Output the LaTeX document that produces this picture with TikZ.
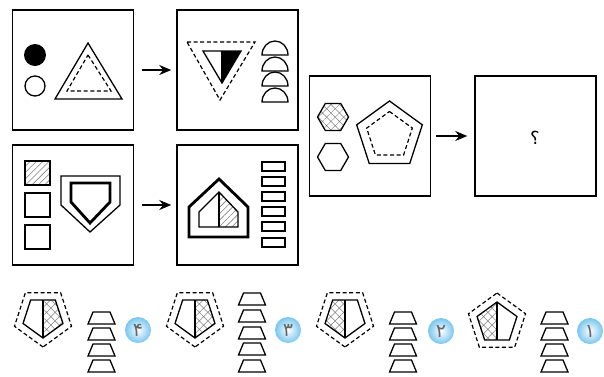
\documentclass[tikz,border=0pt]{standalone}
\usepackage{fontspec}
\newfontfamily\arabicfont[Script=Arabic]{DejaVu Sans}
\usetikzlibrary{patterns.meta, arrows.meta}
\definecolor{badgeblue}{RGB}{120,198,238}
\tikzset{
  panel/.style={draw, line width=1.5pt, minimum width=121pt, minimum height=120pt, inner sep=0pt},
  dsh/.style={line width=1.2pt, dash pattern=on 4pt off 2.6pt},
  hatch/.style={pattern={Lines[angle=45,distance=4.5pt,line width=0.6pt]}, pattern color=gray},
  xhatch/.style={pattern={Hatch[angle=45,distance=6pt,line width=0.5pt]}, pattern color=gray},
  badge/.style={circle, minimum size=26pt, inner sep=0pt, inner color=white, outer color=badgeblue, text=gray!80!black, font=\arabicfont\fontsize{19}{19}\selectfont},
}
\begin{document}
\begin{tikzpicture}[x=1pt, y=-1pt, line width=1.3pt, line join=miter, >={Stealth[length=12pt, width=10pt]}]
	\useasboundingbox (0,0) rectangle (604,376);
	%%%%%%%%%%%%%%%%%%%%%%%%%%%%%%%%%
	\node[panel] (p1) at (73,70) {};
	\node[panel] (p2) at (237.5,70) {};
	\node[panel] (p3) at (73,205) {};
	\node[panel] (p4) at (237.5,205) {};
	\node[panel] (p5) at (370,136) {};
	\node[panel] (p6) at (535.5,136) {};
	\draw[->, line width=1.5pt, shorten <=8pt, shorten >=5pt] (p1) -- (p2);
	\draw[->, line width=1.5pt, shorten <=8pt, shorten >=5pt] (p3) -- (p4);
	\draw[->, line width=1.5pt, shorten <=5pt, shorten >=7pt] (p5) -- (p6);
	\node[font=\arabicfont\fontsize{18}{18}\selectfont] (q) at (535,138) {؟};
	%%%%%%%%%%%%%%%%%%%%%%%%%%%%%%%%%
	% panel 1
	\fill (35,55) circle (11);
	\draw (35,86) circle (10);
	\draw (88,43) -- (122,99) -- (55,99) -- cycle;
	\draw[dsh] (88,55) -- (111,91) -- (67,91) -- cycle;
	% panel 2
	\draw[dsh] (187,42) -- (255,42) -- (220,100) -- cycle;
	\fill (222,51) -- (241,51) -- (222,83) -- cycle;
	\draw (203,51) -- (241,51) -- (222,83) -- cycle;
	\draw (222,51) -- (222,83);
	\foreach \y in {55,71,86,102}
		\draw (262,\y) arc[start angle=180, end angle=360, x radius=13, y radius=14] -- cycle;
	% panel 3
	\draw[hatch] (25,161) rectangle (50,185);
	\draw (25,193) rectangle (50,217);
	\draw (25,225) rectangle (50,249);
	\draw (61,176) -- (120,176) -- (120,205) -- (90,232) -- (61,205) -- cycle;
	\draw[line width=2.8pt] (71,183) -- (110,183) -- (110,202) -- (90,223) -- (71,202) -- cycle;
	% panel 4
	\draw[line width=2.8pt] (219,179) -- (248,207) -- (248,237) -- (189,237) -- (189,207) -- cycle;
	\fill[hatch] (219,192) -- (238,212) -- (238,227) -- (219,227) -- cycle;
	\draw (219,192) -- (238,212) -- (238,227) -- (199,227) -- (199,212) -- cycle;
	\draw (219,192) -- (219,227);
	\foreach \y in {162,177,192,207,222,238}
		\draw (262,\y) rectangle (285,\y+9);
	% panel 5
	\draw[xhatch] (333,117) ++(0:15.5) -- ++(120:15.5) -- ++(180:15.5) -- ++(240:15.5) -- ++(300:15.5) -- ++(0:15.5) -- cycle;
	\draw (333,157) ++(0:15.5) -- ++(120:15.5) -- ++(180:15.5) -- ++(240:15.5) -- ++(300:15.5) -- ++(0:15.5) -- cycle;
	\draw[shift={(389.5,135.5)}] (270:34.5) -- (342:34.5) -- (54:34.5) -- (126:34.5) -- (198:34.5) -- cycle;
	\draw[dsh, shift={(389.5,135.5)}] (270:24) -- (342:24) -- (54:24) -- (126:24) -- (198:24) -- cycle;
	%%%%%%%%%%%%%%%%%%%%%%%%%%%%%%%%%
	% option 4
	\begin{scope}[shift={(43,317)}]
		\draw[dsh] (90:30) -- (162:30) -- (234:30) -- (306:30) -- (18:30) -- cycle;
		\fill[xhatch] (0,-17) -- (306:21) -- (18:21) -- (90:21) -- cycle;
		\draw (90:21) -- (162:21) -- (234:21) -- (306:21) -- (18:21) -- cycle;
		\draw (0,-17) -- (90:21);
	\end{scope}
	\foreach \y in {312,328,344,360}
		\draw[shift={(101.5,\y)}] (-8.5,0) -- (8.5,0) -- (13.5,12) -- (-13.5,12) -- cycle;
	\node[badge] (o4) at (138,330) {۴};
	% option 3
	\begin{scope}[shift={(195,317)}]
		\draw[dsh] (90:30) -- (162:30) -- (234:30) -- (306:30) -- (18:30) -- cycle;
		\fill[xhatch] (0,-17) -- (306:21) -- (18:21) -- (90:21) -- cycle;
		\draw (90:21) -- (162:21) -- (234:21) -- (306:21) -- (18:21) -- cycle;
		\draw (0,-17) -- (90:21);
	\end{scope}
	\foreach \y in {293,310,327,343,360}
		\draw[shift={(252,\y)}] (-8.5,0) -- (8.5,0) -- (13.5,12) -- (-13.5,12) -- cycle;
	\node[badge] (o3) at (288,330) {۳};
	% option 2
	\begin{scope}[shift={(345,317)}]
		\draw[dsh] (90:30) -- (162:30) -- (234:30) -- (306:30) -- (18:30) -- cycle;
		\fill[xhatch] (0,-17) -- (234:21) -- (162:21) -- (90:21) -- cycle;
		\draw (90:21) -- (162:21) -- (234:21) -- (306:21) -- (18:21) -- cycle;
		\draw (0,-17) -- (90:21);
	\end{scope}
	\foreach \y in {312,328,344,360}
		\draw[shift={(403,\y)}] (-8.5,0) -- (8.5,0) -- (13.5,12) -- (-13.5,12) -- cycle;
	\node[badge] (o2) at (441,331) {۲};
	% option 1
	\begin{scope}[shift={(497,323)}]
		\draw[dsh] (270:30) -- (342:30) -- (54:30) -- (126:30) -- (198:30) -- cycle;
		\fill[xhatch] (270:21) -- (198:21) -- (126:21) -- (0,17) -- cycle;
		\draw (270:21) -- (342:21) -- (54:21) -- (126:21) -- (198:21) -- cycle;
		\draw (270:21) -- (0,17);
	\end{scope}
	\foreach \y in {312,328,344,360}
		\draw[shift={(554.5,\y)}] (-8.5,0) -- (8.5,0) -- (13.5,12) -- (-13.5,12) -- cycle;
	\node[badge] (o1) at (590,331) {۱};
	%%%%%%%%%%%%%%%%%%%%%%%%%%%%%%%%%
\end{tikzpicture}
\end{document}
